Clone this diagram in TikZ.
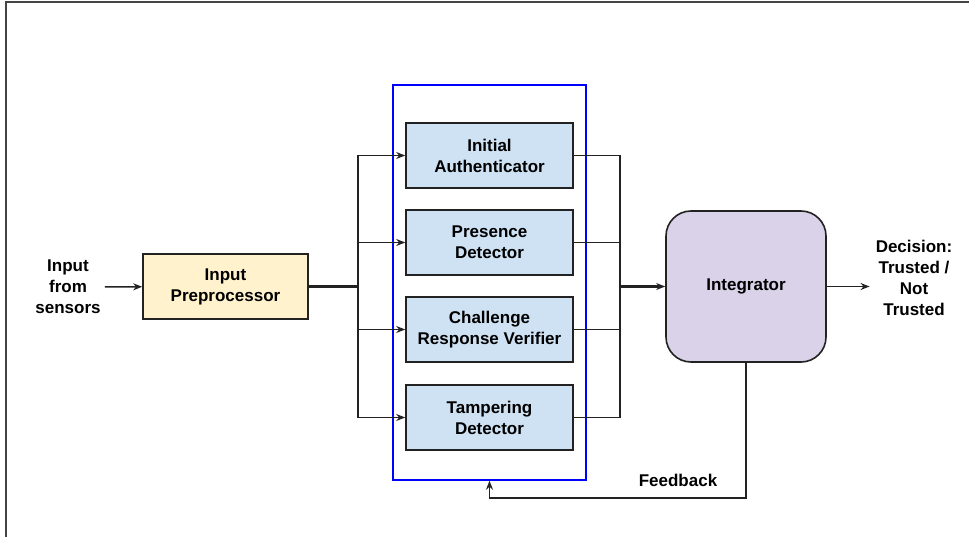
\documentclass[tikz,border=0pt]{standalone}
\usepackage{fontspec}
\setmainfont{Liberation Sans}
\usetikzlibrary{arrows.meta}
\definecolor{prefill}{HTML}{FFF2CC}
\definecolor{modfill}{HTML}{CFE2F3}
\definecolor{intfill}{HTML}{D9D2E9}
\definecolor{edge}{HTML}{222222}
\definecolor{framegray}{HTML}{444444}
\begin{document}
\begin{tikzpicture}[x=1pt,y=-1pt,
  font=\bfseries\fontsize{17}{21}\selectfont,
  box/.style={draw=edge, line width=1.6pt, align=center, inner sep=0pt},
  modbox/.style={box, fill=modfill, minimum width=167pt, minimum height=65pt},
  lbl/.style={align=center, inner sep=4pt},
  conn/.style={draw=edge, line width=1.5pt},
  arr/.style={conn, -{Stealth[length=9pt,width=7pt]}}
]
\useasboundingbox (0,0) rectangle (969,537);
\draw[framegray, line width=2.2pt] (6,537) -- (6,2) -- (969,2);

\node[draw=blue, line width=1.5pt, minimum width=193pt, minimum height=395pt, inner sep=0pt] (grp) at (489.5,282.5) {};

\node[lbl] (in) at (68,287) {Input\\from\\sensors};
\node[box, fill=prefill, minimum width=165pt, minimum height=65pt] (pre) at (225.5,286.5) {Input\\Preprocessor};

\node[modbox] (ia) at (489.5,155.5) {Initial\\Authenticator};
\node[modbox] (pd) at (489.5,242.5) {Presence\\Detector};
\node[modbox] (crv) at (489.5,329.5) {Challenge\\Response Verifier};
\node[modbox] (td) at (489.5,417.5) {Tampering\\Detector};

\node[box, fill=intfill, rounded corners=25pt, minimum width=160pt, minimum height=151pt] (integ) at (746,286.5) {Integrator};
\node[lbl, inner sep=6pt] (dec) at (914,277.5) {Decision:\\Trusted /\\Not\\Trusted};
\node[inner sep=0pt] (fb) at (678,480) {Feedback};

\coordinate (jl) at (358,286.5);
\coordinate (jr) at (620,286.5);
\coordinate (fbc) at (746,498);

\draw[arr] (in) -- (pre);
\draw[conn, line width=2.2pt] (pre.east) -- (jl);
\draw[conn] (ia.west -| jl) -- (td.west -| jl);
\foreach \m in {ia,pd,crv,td} {
  \draw[arr] (\m.west -| jl) -- (\m.west);
  \draw[conn] (\m.east) -- (\m.east -| jr);
}
\draw[conn] (ia.east -| jr) -- (td.east -| jr);
\draw[arr, line width=2.2pt] (jr) -- (integ.west);
\draw[arr] (integ.east) -- (integ.east -| dec.west);
\draw[arr] (integ.south) -- (fbc) -| (grp.south);
\end{tikzpicture}
\end{document}
